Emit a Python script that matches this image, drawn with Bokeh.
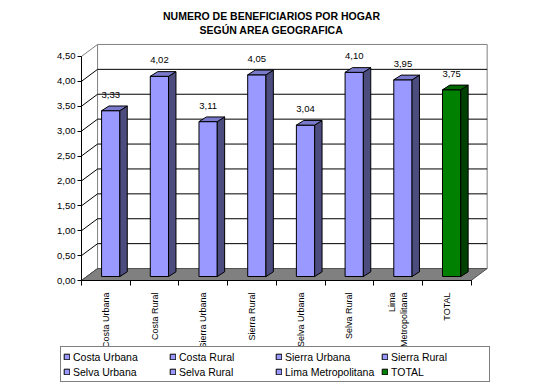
from math import pi
from bokeh.plotting import figure
from bokeh.models import Range1d, FixedTicker, Label, Legend, LegendItem, ColumnDataSource
from bokeh.core.properties import value
from bokeh.embed import file_html
from bokeh.resources import INLINE

# ---- data ----
categories = ["Costa Urbana", "Costa Rural", "Sierra Urbana", "Sierra Rural",
              "Selva Urbana", "Selva Rural", "Lima Metropolitana", "TOTAL"]
axis_labels = ["Costa Urbana", "Costa Rural", "Sierra Urbana", "Sierra Rural",
               "Selva Urbana", "Selva Rural", "Lima\nMetropolitana", "TOTAL"]
values = [3.33, 4.02, 3.11, 4.05, 3.04, 4.10, 3.95, 3.75]
y_ticks = [0.0, 0.5, 1.0, 1.5, 2.0, 2.5, 3.0, 3.5, 4.0, 4.5]
y_tick_labels = ["0,00", "0,50", "1,00", "1,50", "2,00", "2,50", "3,00", "3,50", "4,00", "4,50"]
title_lines = ["NUMERO DE BENEFICIARIOS POR HOGAR", "SEGÚN AREA GEOGRAFICA"]

# ---- style / geometry ----
FONT_NAME = "Liberation Sans"
FONT = value(FONT_NAME)
n = len(categories)
DX, DY = 0.33, 0.24          # depth of the wall/floor (data units)
SHIFT, BW, BASE = 0.10, 0.375, 0.08
BDX, BDY = 0.152, 0.094      # depth of a bar
ymax = y_ticks[-1]

W, H = 530, 382
PX_X, PX_Y = 48.7, 49.8       # pixels per data unit
OX, OY = 81, 280              # pixel position of the data origin (from top-left)

p = figure(width=W, height=H, title=None,
           x_range=Range1d(-OX / PX_X, (W - OX) / PX_X),
           y_range=Range1d(-(H - OY) / PX_Y, OY / PX_Y),
           output_backend="svg", toolbar_location=None,
           min_border_left=0, min_border_right=0, min_border_top=0, min_border_bottom=0)
p.xgrid.visible = False
p.ygrid.visible = False
p.outline_line_color = None
p.background_fill_color = "white"
p.border_fill_color = "white"

# back wall
p.quad(left=DX, right=n + DX, bottom=DY, top=ymax + DY, fill_color="white", line_color="#808080")
inner = y_ticks[1:-1]
p.segment(x0=[DX] * len(inner), y0=[t + DY for t in inner],
          x1=[n + DX] * len(inner), y1=[t + DY for t in inner], line_color="black", line_width=1)
# left wall diagonals
p.segment(x0=[0] * len(y_ticks[:-1]), y0=y_ticks[:-1], x1=[DX] * len(y_ticks[:-1]),
          y1=[t + DY for t in y_ticks[:-1]], line_color="black", line_width=1)
p.segment(x0=[0], y0=[ymax], x1=[DX], y1=[ymax + DY], line_color="#808080", line_width=1)
# floor
p.patch([0, n, n + DX, DX], [0, 0, DY, DY], fill_color="#808080", line_color="#505050")

# bars
is_total = [c == "TOTAL" for c in categories]
xs = [i + 0.5 + SHIFT for i in range(n)]
tops = [v + BASE for v in values]
src = ColumnDataSource(dict(
    x=xs, top=tops, cat=categories,
    front=["#008000" if t else "#9999FF" for t in is_total],
    lab=[f"{v:.2f}".replace(".", ",") for v in values],
))
front = p.vbar(x="x", width=BW, top="top", bottom=BASE, fill_color="front",
               line_color="black", line_width=1, source=src)
side_xs, side_ys, top_xs, top_ys = [], [], [], []
for x, t in zip(xs, tops):
    xl, xr = x - BW / 2, x + BW / 2
    side_xs.append([xr, xr + BDX, xr + BDX, xr])
    side_ys.append([BASE, BASE + BDY, t + BDY, t])
    top_xs.append([xl, xl + BDX, xr + BDX, xr])
    top_ys.append([t, t + BDY, t + BDY, t])
p.patches(side_xs, side_ys, fill_color=["#004000" if t else "#4C4C7F" for t in is_total],
          line_color="black", line_width=1)
p.patches(top_xs, top_ys, fill_color=["#006600" if t else "#7A7ACC" for t in is_total],
          line_color="black", line_width=1)

p.text(x="x", y="top", text="lab", source=src, text_align="center", text_baseline="middle",
       y_offset=-16, text_font=FONT, text_font_size="9.5px", text_color="black")

# axes (drawn at the data origin)
yax = p.yaxis[0]
yax.fixed_location = 0
yax.ticker = FixedTicker(ticks=y_ticks)
yax.major_label_overrides = dict(zip(y_ticks, y_tick_labels))
yax.bounds = (0, ymax)
yax.major_tick_out = 4
yax.major_tick_in = 0
yax.major_label_standoff = 2
yax.axis_line_color = "black"
yax.major_tick_line_color = "black"
yax.major_label_text_font = FONT_NAME
yax.major_label_text_font_size = "9.5px"
yax.major_label_text_color = "black"

centers = [i + 0.5 for i in range(n)]
xax = p.xaxis[0]
xax.fixed_location = 0
xax.ticker = FixedTicker(ticks=centers, minor_ticks=list(range(n + 1)))
xax.major_label_overrides = dict(zip(centers, axis_labels))
xax.bounds = (0, n)
xax.major_tick_line_color = None
xax.major_tick_out = 0
xax.major_tick_in = 0
xax.minor_tick_out = 5
xax.minor_tick_in = 0
xax.minor_tick_line_color = "black"
xax.axis_line_color = "black"
xax.major_label_orientation = pi / 2
xax.major_label_standoff = 7
xax.major_label_text_font = FONT_NAME
xax.major_label_text_font_size = "9px"
xax.major_label_text_color = "black"

# title (two centred lines)
for txt, yy in zip(title_lines, [H - 15.3, H - 29.3]):
    p.add_layout(Label(x=271, y=yy, x_units="screen", y_units="screen", text=txt,
                       text_align="center", text_baseline="middle", text_font=FONT_NAME,
                       text_font_size="10.5px", text_font_style="bold", text_color="black"))

# legend
items = [LegendItem(label=c, renderers=[front], index=i) for i, c in enumerate(categories)]
legend = Legend(items=items, location=(60, 0), orientation="horizontal", ncols=4,
                glyph_width=7, glyph_height=7, label_standoff=3, label_width=96,
                label_height=15, spacing=0, padding=2, margin=0,
                border_line_color="black", border_line_width=1,
                label_text_font=FONT_NAME, label_text_font_size="10.5px",
                label_text_color="black", background_fill_color="white", background_fill_alpha=1)
p.add_layout(legend)

open("out.html", "w").write(file_html(p, INLINE))
